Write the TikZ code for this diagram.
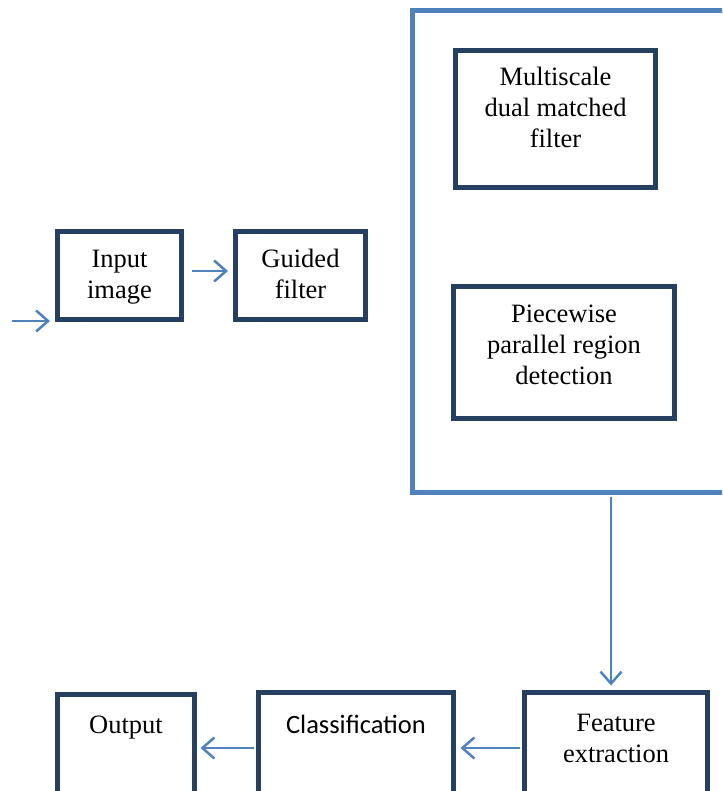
\documentclass[tikz,border=0pt]{standalone}
\usepackage{fontspec}
\setmainfont{Liberation Serif}
\newfontfamily\calibrifont{Carlito}
\usetikzlibrary{arrows.meta}
\definecolor{boxdark}{HTML}{243F60}
\definecolor{lineblue}{HTML}{4F81BD}
\tikzset{
  blk/.style={draw=boxdark, line width=5pt, rectangle, inner sep=0pt, fill=none},
  bigframe/.style={draw=lineblue, line width=4.5pt, rectangle, inner sep=0pt},
  lbl/.style={align=center, inner sep=0pt, font=\fontsize{26.5}{31}\selectfont},
  arr/.style={draw=lineblue, line width=2.5pt, -{Straight Barb[length=12pt, width=21pt, line width=2.5pt]}},
}
\begin{document}
\begin{tikzpicture}[x=1pt, y=-1pt]
\clip (0,0) rectangle (722,791);
\fill[white] (0,0) rectangle (722,791);
% big frame
\node[bigframe, minimum width=348pt, minimum height=482pt] (frame) at (586.5,251.5) {};
% boxes
\node[blk, minimum width=124pt, minimum height=88pt] (inp) at (119.5,275.5) {};
\node[blk, minimum width=130pt, minimum height=88pt] (gf) at (300.5,275.5) {};
\node[blk, minimum width=200pt, minimum height=137pt] (msf) at (555.5,119) {};
\node[blk, minimum width=221pt, minimum height=132pt] (ppr) at (564,352.5) {};
\node[blk, minimum width=183pt, minimum height=147.5pt] (fe) at (616,766.25) {};
\node[blk, minimum width=195pt, minimum height=147.5pt] (cls) at (356,766.25) {};
\node[blk, minimum width=137pt, minimum height=145.5pt] (out) at (126,767.25) {};
% labels
\node[lbl] (tinp) at (119.5,276.3) {\strut Input\\image\strut};
\node[lbl] (tgf) at (300.5,276.3) {\strut Guided\\filter\strut};
\node[lbl] (tmsf) at (555.5,110.8) {\strut Multiscale\\dual matched\\filter\strut};
\node[lbl] (tppr) at (564,347.5) {\strut Piecewise\\parallel region\\detection\strut};
\node[lbl] (tfe) at (616,740.3) {\strut Feature\\extraction\strut};
\node[lbl, font=\fontsize{26.5}{31}\selectfont\calibrifont] (tcls) at (356,726.8) {\strut Classification};
\node[lbl] (tout) at (126,726.8) {\strut Output};
% connectors
\coordinate (instart) at (12,321);
\draw[arr, shorten >=5pt] (instart) -- (instart -| inp.west);
\draw[arr, shorten <=8pt, shorten >=5pt] ([yshift=4.5pt]inp.east) -- ([yshift=4.5pt]gf.west);
\coordinate (dx) at (611,0);
\draw[arr, shorten <=2pt, shorten >=4.5pt] (frame.south -| dx) -- (fe.north -| dx);
\coordinate (hy) at (0,748);
\draw[arr, shorten <=2.5pt, shorten >=4.5pt] (fe.west |- hy) -- (cls.east |- hy);
\draw[arr, shorten <=2.5pt, shorten >=3.5pt] (cls.west |- hy) -- (out.east |- hy);
\end{tikzpicture}
\end{document}
